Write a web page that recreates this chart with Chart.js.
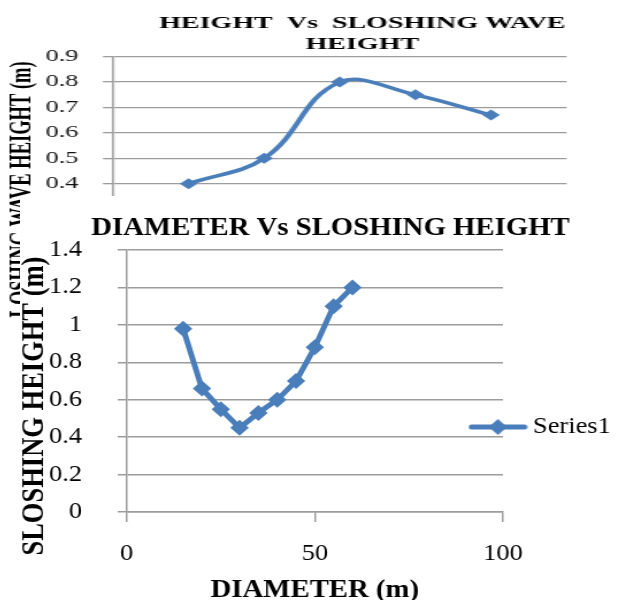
<!DOCTYPE html>
<html>
<head>
<meta charset="utf-8">
<script src="https://cdn.jsdelivr.net/npm/chart.js@4/dist/chart.umd.min.js"></script>
<style>
  html, body { margin: 0; padding: 0; background: #fff; overflow: hidden; width: 628px; height: 600px; }
  #wrap { position: relative; width: 628px; height: 600px; overflow: hidden; background: #fff; }
  canvas { position: absolute; background: #fff; }
</style>
</head>
<body>
<div id="wrap">
  <!-- both charts are drawn narrow and widened in CSS for the broad lettering -->
  <canvas id="heightChart" width="450" height="318" style="left:0;top:0;width:720px;height:318px;"></canvas>
  <canvas id="diameterChart" width="540" height="410" style="left:20px;top:196px;width:621px;height:410px;"></canvas>
</div>
<script>
// Tank height vs sloshing wave height
const tankHeights = [20, 40, 60, 80, 100];
const waveHeights = [0.40, 0.50, 0.80, 0.75, 0.67];
const heightXTicks = [0, 20, 40, 60, 80, 100, 120];
const heightXLabels = ['0', '20', '40', '60', '80', '100', '120'];
const waveYTicks = [0, 0.1, 0.2, 0.3, 0.4, 0.5, 0.6, 0.7, 0.8, 0.9];
const waveYLabels = ['0', '0.1', '0.2', '0.3', '0.4', '0.5', '0.6', '0.7', '0.8', '0.9'];

// Tank diameter vs sloshing height
const diameters = [15, 20, 25, 30, 35, 40, 45, 50, 55, 60];
const sloshHeights = [0.98, 0.66, 0.55, 0.45, 0.53, 0.60, 0.70, 0.88, 1.10, 1.20];
const diaXTicks = [0, 50, 100];
const diaXLabels = ['0', '50', '100'];
const sloshYTicks = [0, 0.2, 0.4, 0.6, 0.8, 1, 1.2, 1.4];
const sloshYLabels = ['0', '0.2', '0.4', '0.6', '0.8', '1', '1.2', '1.4'];

const SERIF = "'Liberation Serif', 'Times New Roman', serif";
const BLUE = '#4a7ebb';
const GRID = '#9c9c9c';

function pairs(xs, ys) {
  return xs.map((x, i) => ({ x: x, y: ys[i] }));
}

function fixedTicks(values) {
  return scale => { scale.ticks = values.map(v => ({ value: v })); };
}

function fixedWidth(w) {
  return scale => { scale.width = w; };
}

// legend sample: a short line with a diamond on it
function legendSample() {
  const c = document.createElement('canvas');
  c.width = 52; c.height = 18;
  const g = c.getContext('2d');
  g.strokeStyle = BLUE; g.lineWidth = 5; g.lineCap = 'round';
  g.beginPath(); g.moveTo(3, 9); g.lineTo(49, 9); g.stroke();
  g.fillStyle = BLUE;
  g.beginPath(); g.moveTo(26, 1); g.lineTo(34, 9); g.lineTo(26, 17); g.lineTo(18, 9); g.closePath(); g.fill();
  return c;
}

// moves the legend box after layout so it can sit over the plot edge
const legendOffset = {
  id: 'legendOffset',
  afterLayout(chart, args, opts) {
    const lg = chart.legend;
    if (!lg || !opts) return;
    lg.left += opts.dx;
    lg.right = chart.width;
    lg.top += opts.dy;
    lg.bottom += opts.dy;
  }
};

new Chart(document.getElementById('heightChart'), {
  type: 'scatter',
  data: {
    datasets: [{
      label: 'Series1',
      data: pairs(tankHeights, waveHeights),
      showLine: true,
      borderColor: BLUE,
      backgroundColor: BLUE,
      borderWidth: 3.5,
      tension: 0.4,
      pointStyle: 'rectRot',
      pointRadius: 5.5,
      pointHoverRadius: 5.5,
      pointBorderWidth: 0
    }]
  },
  options: {
    responsive: false,
    animation: false,
    devicePixelRatio: 1,
    layout: { padding: { left: 3, right: 0, top: 0, bottom: 2.7 } },
    plugins: {
      legend: { display: false },
      tooltip: { enabled: false },
      title: {
        display: true,
        text: ['HEIGHT  Vs  SLOSHING WAVE', 'HEIGHT'],
        color: '#000',
        font: { family: SERIF, size: 17.5, weight: 'bold', lineHeight: 1.2 },
        padding: { top: 12.5, bottom: 2.2 }
      }
    },
    scales: {
      x: {
        type: 'linear',
        min: 0, max: 120,
        afterBuildTicks: fixedTicks(heightXTicks),
        grid: { drawOnChartArea: false, color: GRID, tickLength: 6, lineWidth: 1.3 },
        border: { color: GRID, width: 1.3 },
        ticks: { callback: (v, i) => heightXLabels[i], color: '#000', padding: 3,
                 font: { family: SERIF, size: 15 } }
      },
      y: {
        min: 0, max: 0.9,
        afterBuildTicks: fixedTicks(waveYTicks),
        afterFit: fixedWidth(67.6),
        grid: { color: GRID, tickLength: 6.25, lineWidth: 1.3 },
        border: { color: GRID, width: 1.3 },
        ticks: { callback: (v, i) => waveYLabels[i], color: '#111', padding: 15.3,
                 font: { family: SERIF, size: 16.5 } },
        title: {
          display: true,
          text: 'SLOSHING WAVE HEIGHT (m) ',
          align: 'end',
          color: '#000',
          font: { family: SERIF, size: 18.5, weight: 'bold', lineHeight: 1.2 },
          padding: { top: 0, bottom: 0 }
        }
      },
      // empty band on the right of the plot
      yRight: {
        position: 'right',
        display: true,
        grid: { display: false },
        border: { display: false },
        ticks: { display: false },
        afterFit: fixedWidth(95.8)
      }
    }
  }
});

new Chart(document.getElementById('diameterChart'), {
  type: 'scatter',
  data: {
    datasets: [{
      label: 'Series1',
      data: pairs(diameters, sloshHeights),
      showLine: true,
      borderColor: BLUE,
      backgroundColor: BLUE,
      borderWidth: 5,
      tension: 0,
      pointStyle: 'rectRot',
      pointRadius: 8,
      pointHoverRadius: 8,
      pointBorderWidth: 0
    }]
  },
  plugins: [legendOffset],
  options: {
    responsive: false,
    animation: false,
    devicePixelRatio: 1,
    layout: { padding: 0 },
    plugins: {
      tooltip: { enabled: false },
      legendOffset: { dx: -33.4, dy: 26 },
      legend: {
        position: 'right',
        maxWidth: 120,
        labels: {
          usePointStyle: true,
          pointStyle: legendSample(),
          pointStyleWidth: 38,
          color: '#000',
          padding: 10,
          font: { family: SERIF, size: 23 }
        }
      },
      title: {
        display: true,
        text: 'DIAMETER Vs SLOSHING HEIGHT',
        color: '#000',
        font: { family: SERIF, size: 25, weight: 'bold', lineHeight: 1.2 },
        padding: { top: 17.5, bottom: 6.5 }
      }
    },
    scales: {
      x: {
        type: 'linear',
        min: 0, max: 100,
        afterBuildTicks: fixedTicks(diaXTicks),
        grid: { drawOnChartArea: false, color: GRID, tickLength: 10, lineWidth: 1.5 },
        border: { color: GRID, width: 1.5 },
        ticks: { callback: (v, i) => diaXLabels[i], color: '#000', padding: 18.4,
                 font: { family: SERIF, size: 23 } },
        title: {
          display: true,
          text: 'DIAMETER (m)',
          color: '#000',
          font: { family: SERIF, size: 25, weight: 'bold', lineHeight: 1 },
          padding: { top: -8, bottom: 2.5 }
        }
      },
      y: {
        min: 0, max: 1.4,
        afterBuildTicks: fixedTicks(sloshYTicks),
        afterFit: fixedWidth(92.8),
        grid: { color: GRID, tickLength: 7.8, lineWidth: 1.5 },
        border: { color: GRID, width: 1.5 },
        ticks: { callback: (v, i) => sloshYLabels[i], color: '#000', padding: 31,
                 font: { family: SERIF, size: 23 } },
        title: {
          display: true,
          text: 'SLOSHING HEIGHT (m) ',
          align: 'end',
          color: '#000',
          font: { family: SERIF, size: 26.5, weight: 'bold', lineHeight: 1 },
          padding: { top: 0, bottom: 0 }
        }
      }
    }
  }
});
</script>
</body>
</html>
